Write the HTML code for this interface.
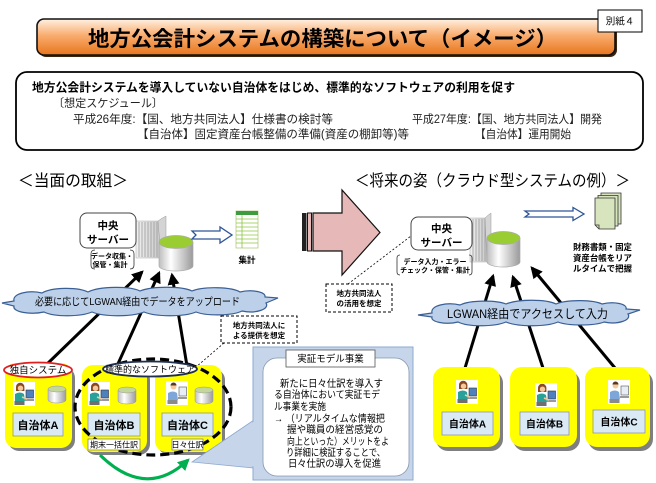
<!DOCTYPE html>
<html><head><meta charset="utf-8"><style>
html,body{margin:0;padding:0;background:#fff;}
svg{display:block;}
text{font-family:"Liberation Sans","Noto Sans CJK JP",sans-serif;}
</style></head><body>
<svg width="656" height="483" viewBox="0 0 656 483" xmlns="http://www.w3.org/2000/svg">
<defs>
<linearGradient id="ban" x1="0" y1="0" x2="0" y2="1">
<stop offset="0" stop-color="#fff1e2"/><stop offset="0.45" stop-color="#f9ad70"/><stop offset="1" stop-color="#e8751c"/>
</linearGradient>
<linearGradient id="cyl" x1="0" y1="0" x2="1" y2="0">
<stop offset="0" stop-color="#bdbdbd"/><stop offset="0.35" stop-color="#ffffff"/><stop offset="1" stop-color="#9a9a9a"/>
</linearGradient>
<linearGradient id="tow" x1="0" y1="0" x2="1" y2="0">
<stop offset="0" stop-color="#f2f2f2"/><stop offset="1" stop-color="#c8c8c8"/>
</linearGradient>
<marker id="ah" viewBox="0 0 10 10" refX="8" refY="5" markerWidth="4" markerHeight="4" orient="auto">
<path d="M0,0 L10,5 L0,10 z" fill="#000"/></marker>
<marker id="gh" viewBox="0 0 10 10" refX="8" refY="5" markerWidth="4" markerHeight="4" orient="auto">
<path d="M0,0 L10,5 L0,10 z" fill="#00b050"/></marker>
<g id="pf">
<rect width="22" height="24" fill="#fff"/>
<path d="M3,9 V5 a4.2,4.2 0 0 1 8.4,0 V9 z" fill="#8b4a1e"/>
<circle cx="7.5" cy="6.2" r="2.7" fill="#f4c9a0"/>
<path d="M2,12 q5,-3 9,0 l1,7 h-10z" fill="#2aa198"/>
<rect x="1.5" y="19" width="10" height="4" fill="#6f6f6f"/>
<rect x="13" y="8" width="7.5" height="8" fill="#4f81bd" stroke="#333" stroke-width="0.6"/>
<rect x="12" y="17" width="9" height="2" fill="#9a9a9a"/>
<path d="M9,15 l5,2" stroke="#f4c9a0" stroke-width="1.5"/>
</g>
<g id="pm">
<rect width="22" height="24" fill="#fff"/>
<circle cx="7.5" cy="5.5" r="3" fill="#f4c9a0"/>
<path d="M4.5,4.5 a3,3 0 0 1 6,0 z" fill="#5a3a1e"/>
<path d="M2,12 q5,-3 9,0 l1,7 h-10z" fill="#7ea6d8"/>
<rect x="1.5" y="19" width="10" height="4" fill="#8a8a8a"/>
<rect x="13" y="6" width="7.5" height="9" fill="#e8eef6" stroke="#555" stroke-width="0.6"/>
<rect x="12" y="16" width="9" height="2" fill="#9a9a9a"/>
</g>
<g id="cs">
<path d="M0,3 V14 A9,3 0 0 0 18,14 V3" fill="url(#cyl)" stroke="#999" stroke-width="0.5"/>
<ellipse cx="9" cy="3" rx="9" ry="3" fill="#c4d79b" stroke="#999" stroke-width="0.5"/>
</g>
</defs>

<!-- Banner -->
<rect x="39" y="21" width="578" height="36" rx="7" fill="#3b2410"/>
<rect x="37" y="19" width="578" height="36" rx="7" fill="url(#ban)" stroke="#111" stroke-width="1.6"/>
<text x="88" y="46" font-size="21" font-weight="bold" textLength="469" lengthAdjust="spacingAndGlyphs">地方公会計システムの構築について（イメージ）</text>
<rect x="598" y="10" width="44" height="22" fill="#fff" stroke="#000" stroke-width="1"/>
<text x="620" y="24.5" font-size="9.5" text-anchor="middle">別紙４</text>

<!-- Info box -->
<rect x="16" y="72" width="627" height="78" rx="11" fill="#fff" stroke="#000" stroke-width="1.8"/>
<text x="32" y="91.5" font-size="12" font-weight="bold" textLength="483" lengthAdjust="spacingAndGlyphs">地方公会計システムを導入していない自治体をはじめ、標準的なソフトウェアの利用を促す</text>
<text x="53" y="107" font-size="11.5" fill="#222" textLength="110" lengthAdjust="spacingAndGlyphs">〔想定スケジュール〕</text>
<text x="73" y="123" font-size="11.5" fill="#222" textLength="260" lengthAdjust="spacingAndGlyphs">平成26年度:【国、地方共同法人】仕様書の検討等</text>
<text x="137" y="138" font-size="11.5" fill="#222" textLength="272" lengthAdjust="spacingAndGlyphs">【自治体】固定資産台帳整備の準備(資産の棚卸等)等</text>
<text x="412" y="123" font-size="11.5" fill="#222" textLength="190" lengthAdjust="spacingAndGlyphs">平成27年度:【国、地方共同法人】開発</text>
<text x="475" y="138" font-size="11.5" fill="#222" textLength="96" lengthAdjust="spacingAndGlyphs">【自治体】運用開始</text>

<!-- Section headers -->
<text x="18" y="186" font-size="16" textLength="110" lengthAdjust="spacingAndGlyphs">＜当面の取組＞</text>
<text x="355" y="186" font-size="16" textLength="275" lengthAdjust="spacingAndGlyphs">＜将来の姿（クラウド型システムの例）＞</text>

<!-- Left server -->
<rect x="136" y="221" width="25" height="37" fill="url(#tow)" stroke="#aaa" stroke-width="0.5"/>
<g stroke="#9a9a9a" stroke-width="0.8">
<line x1="139" y1="222" x2="139" y2="257"/><line x1="142" y1="222" x2="142" y2="257"/><line x1="145" y1="222" x2="145" y2="257"/><line x1="148" y1="222" x2="148" y2="257"/><line x1="151" y1="222" x2="151" y2="257"/><line x1="154" y1="222" x2="154" y2="257"/><line x1="157" y1="222" x2="157" y2="257"/>
</g>
<path d="M158,221 Q162,218 166,216 V256 L161,258 Z" fill="#d4d4d4" stroke="#999" stroke-width="0.5"/>
<rect x="80" y="213" width="56" height="35" rx="7" fill="#fff" stroke="#444" stroke-width="1"/>
<text x="108" y="229" font-size="10.5" font-weight="bold" text-anchor="middle">中央</text>
<text x="108" y="243" font-size="10.5" font-weight="bold" text-anchor="middle">サーバー</text>
<path d="M95,250 Q91,250 91,254 V265 Q91,269 95,269" fill="none" stroke="#333" stroke-width="0.8"/>
<path d="M130,250 Q134,250 134,254 V265 Q134,269 130,269" fill="none" stroke="#333" stroke-width="0.8"/>
<text x="112" y="258.5" font-size="7" font-weight="bold" text-anchor="middle">データ収集・</text>
<text x="110" y="267" font-size="7" font-weight="bold" text-anchor="middle">保管・集計</text>
<path d="M159,242 V266 A17,5 0 0 0 193,266 V242" fill="url(#cyl)" stroke="#aaa" stroke-width="0.7"/>
<ellipse cx="176" cy="242" rx="17" ry="6.5" fill="#9acd32" stroke="#aaa" stroke-width="0.7"/>
<!-- hollow arrow left -->
<path d="M192,231 H220 V227 L232,235 L220,243 V239 H192 L196,235 Z" fill="#fff" stroke="#2e5597" stroke-width="1.3"/>
<!-- spreadsheet -->
<rect x="236" y="211" width="22" height="37" fill="#fff" stroke="#9bbb59" stroke-width="0.6"/>
<rect x="236" y="211" width="22" height="4" fill="#3e9b3e"/>
<g stroke="#8dc63f" stroke-width="0.8">
<line x1="236" y1="219" x2="258" y2="219"/><line x1="236" y1="223" x2="258" y2="223"/><line x1="236" y1="227" x2="258" y2="227"/><line x1="236" y1="231" x2="258" y2="231"/><line x1="236" y1="235" x2="258" y2="235"/><line x1="236" y1="239" x2="258" y2="239"/><line x1="236" y1="243" x2="258" y2="243"/><line x1="242" y1="215" x2="242" y2="248"/>
</g>
<text x="247" y="263" font-size="8.5" font-weight="bold" text-anchor="middle">集計</text>

<!-- Left lines -->
<g stroke="#000" stroke-width="3" marker-end="url(#ah)">
<line x1="45" y1="366" x2="142" y2="272"/>
<line x1="117" y1="366" x2="159" y2="273"/>
<line x1="187" y1="366" x2="172" y2="275"/>
</g>
<!-- Left cloud -->
<path d="M2,303 L14,301 C12,293 30,290 42,293 C52,287 78,287 88,292 C100,286 130,286 140,291 C152,286 182,286 192,291 C204,286 232,287 240,292 C252,289 266,292 265,297 L278,298 L266,303 C270,309 256,314 242,311 C232,316 206,316 196,312 C184,317 156,317 144,312 C132,317 104,317 92,312 C80,317 54,317 44,312 C30,315 12,312 14,306 Z" fill="#bcd0ea" stroke="#3a5f95" stroke-width="1.2"/>
<text x="35" y="305" font-size="10.5" textLength="205" lengthAdjust="spacingAndGlyphs">必要に応じてLGWAN経由でデータをアップロード</text>

<!-- dashed box left -->
<rect x="221" y="316" width="76" height="27" fill="#fff" stroke="#000" stroke-width="1" stroke-dasharray="3,2"/>
<text x="259" y="328" font-size="7.5" font-weight="bold" text-anchor="middle">地方共同法人に</text>
<text x="259" y="338" font-size="7.5" font-weight="bold" text-anchor="middle">よる提供を想定</text>
<line x1="224" y1="343" x2="196" y2="367" stroke="#000" stroke-width="0.8" stroke-dasharray="2,2"/>

<!-- Left yellow boxes -->
<rect x="8" y="367" width="67" height="84" rx="11" fill="#7f7f7f"/>
<rect x="5" y="363" width="67" height="85" rx="11" fill="#ffff00"/>
<rect x="85" y="369" width="65" height="86" rx="11" fill="#7f7f7f"/>
<rect x="82" y="365" width="65" height="87" rx="11" fill="#ffff00"/>
<rect x="158" y="369" width="67" height="86" rx="11" fill="#7f7f7f"/>
<rect x="155" y="365" width="67" height="87" rx="11" fill="#ffff00"/>
<use href="#pf" x="13" y="382"/>
<use href="#cs" x="48" y="386"/>
<use href="#pf" x="88" y="382"/>
<use href="#cs" x="118" y="387"/>
<use href="#pm" x="166" y="381"/>
<use href="#cs" x="195" y="387"/>
<rect x="13" y="413" width="50" height="23" fill="#d9eaf5" stroke="#8a8a8a" stroke-width="0.7"/>
<rect x="88" y="413" width="52" height="23" fill="#d9eaf5" stroke="#8a8a8a" stroke-width="0.7"/>
<rect x="162" y="413" width="51" height="23" fill="#d9eaf5" stroke="#8a8a8a" stroke-width="0.7"/>
<text x="38" y="429" font-size="11" font-weight="bold" text-anchor="middle">自治体A</text>
<text x="114" y="429" font-size="11" font-weight="bold" text-anchor="middle">自治体B</text>
<text x="187.5" y="429" font-size="11" font-weight="bold" text-anchor="middle">自治体C</text>
<ellipse cx="153" cy="407" rx="78" ry="48" fill="none" stroke="#000" stroke-width="3.2" stroke-dasharray="9,5"/>
<path d="M100,455 Q146,500 188,460" fill="none" stroke="#00b050" stroke-width="3" marker-end="url(#gh)"/>
<rect x="88" y="439" width="52" height="11" fill="#fff" stroke="#777" stroke-width="0.7"/>
<text x="114" y="447.5" font-size="8" text-anchor="middle">期末一括仕訳</text>
<rect x="172" y="439" width="31" height="11" fill="#fff" stroke="#777" stroke-width="0.7"/>
<text x="187.5" y="447.5" font-size="8" text-anchor="middle">日々仕訳</text>
<ellipse cx="38" cy="370" rx="34" ry="7.5" fill="#fff" stroke="#e02020" stroke-width="1.8"/>
<text x="38" y="373.5" font-size="9.5" text-anchor="middle">独自システム</text>
<ellipse cx="150" cy="369" rx="47" ry="7.5" fill="#fff" stroke="#1f2f50" stroke-width="1.8"/>
<text x="150" y="372.5" font-size="9" text-anchor="middle">標準的なソフトウェア</text>

<!-- Callout -->
<polygon points="254,420 192,462 254,468" fill="#c6d5ea" stroke="#8eaad0" stroke-width="0.8"/>
<rect x="253" y="347" width="160" height="133" fill="#c6d5ea" stroke="#8eaad0" stroke-width="1"/>
<polygon points="254,421 254,467 230,451" fill="#c6d5ea"/>
<rect x="263" y="358" width="146" height="118" rx="14" fill="#fff" stroke="#8497b0" stroke-width="0.8"/>
<rect x="286" y="350" width="89" height="17" fill="#fff" stroke="#555" stroke-width="0.8"/>
<text x="330.5" y="362" font-size="9.5" text-anchor="middle">実証モデル事業</text>
<g font-size="10">
<text x="280" y="387" textLength="103" lengthAdjust="spacingAndGlyphs">新たに日々仕訳を導入す</text>
<text x="274" y="398" textLength="106" lengthAdjust="spacingAndGlyphs">る自治体において実証モデ</text>
<text x="274" y="410" textLength="52" lengthAdjust="spacingAndGlyphs">ル事業を実施</text>
<text x="274" y="422" textLength="111" lengthAdjust="spacingAndGlyphs">→ （リアルタイムな情報把</text>
<text x="287" y="433" textLength="96" lengthAdjust="spacingAndGlyphs">握や職員の経営感覚の</text>
<text x="287" y="445" textLength="102" lengthAdjust="spacingAndGlyphs">向上といった）メリットをよ</text>
<text x="286" y="456" textLength="99" lengthAdjust="spacingAndGlyphs">り詳細に検証することで、</text>
<text x="288" y="467" textLength="93" lengthAdjust="spacingAndGlyphs">日々仕訳の導入を促進</text>
</g>

<!-- Pink arrow -->
<rect x="302" y="213" width="4.5" height="38" fill="#222"/>
<rect x="307.5" y="213" width="4" height="38" fill="#e6b9b8" stroke="#111" stroke-width="1"/>
<polygon points="313,213 342,213 342,190 380,232.5 342,275 342,251 313,251" fill="#e6b9b8" stroke="#111" stroke-width="1.2"/>

<!-- dashed box right -->
<rect x="326" y="284" width="66" height="28" fill="#fff" stroke="#000" stroke-width="1" stroke-dasharray="3,2"/>
<text x="359" y="296" font-size="7.5" font-weight="bold" text-anchor="middle">地方共同法人</text>
<text x="359" y="306" font-size="7.5" font-weight="bold" text-anchor="middle">の活用を想定</text>
<line x1="348" y1="284" x2="411" y2="236" stroke="#000" stroke-width="0.8" stroke-dasharray="2,2"/>

<!-- Right server -->
<rect x="470" y="218" width="17" height="44" fill="url(#tow)" stroke="#aaa" stroke-width="0.5"/>
<g stroke="#9a9a9a" stroke-width="0.8">
<line x1="473" y1="219" x2="473" y2="261"/><line x1="476" y1="219" x2="476" y2="261"/><line x1="479" y1="219" x2="479" y2="261"/><line x1="482" y1="219" x2="482" y2="261"/><line x1="485" y1="219" x2="485" y2="261"/>
</g>
<path d="M485,218 Q488,215 491,213 V258 L487,262 Z" fill="#d4d4d4" stroke="#999" stroke-width="0.5"/>
<rect x="411" y="217" width="61" height="33" rx="7" fill="#fff" stroke="#444" stroke-width="1"/>
<text x="441.5" y="232" font-size="10.5" font-weight="bold" text-anchor="middle">中央</text>
<text x="441.5" y="246" font-size="10.5" font-weight="bold" text-anchor="middle">サーバー</text>
<path d="M400,255 Q397,255 397,258 V272 Q397,275 400,275" fill="none" stroke="#333" stroke-width="0.8"/>
<path d="M469,255 Q472,255 472,258 V272 Q472,275 469,275" fill="none" stroke="#333" stroke-width="0.8"/>
<text x="435" y="264" font-size="7" font-weight="bold" text-anchor="middle">データ入力・エラー</text>
<text x="435" y="272.5" font-size="7" font-weight="bold" text-anchor="middle">チェック・保管・集計</text>
<path d="M487,238 V262 A16.5,5 0 0 0 520,262 V238" fill="url(#cyl)" stroke="#aaa" stroke-width="0.7"/>
<ellipse cx="503.5" cy="238" rx="16.5" ry="6.5" fill="#9acd32" stroke="#aaa" stroke-width="0.7"/>
<path d="M525,211 H573 V207.5 L584,214 L573,220.5 V217 H525 L529,214 Z" fill="#fff" stroke="#2e5597" stroke-width="1.3"/>
<!-- docs -->
<path d="M601,193 H621 V224 H601 Z" fill="#d7e4bd" stroke="#333" stroke-width="0.8"/>
<path d="M598,195.5 H618 V226 H598 Z" fill="#d7e4bd" stroke="#333" stroke-width="0.8"/>
<path d="M595,198 H615 V229 H599 L595,225 Z" fill="#d7e4bd" stroke="#333" stroke-width="0.8"/>
<path d="M595,225 L599,225 L599,229" fill="none" stroke="#333" stroke-width="0.8"/>
<g font-size="8.5" font-weight="bold">
<text x="573" y="250" textLength="59" lengthAdjust="spacingAndGlyphs">財務書類・固定</text>
<text x="573" y="261" textLength="59" lengthAdjust="spacingAndGlyphs">資産台帳をリア</text>
<text x="573" y="271.5" textLength="59" lengthAdjust="spacingAndGlyphs">ルタイムで把握</text>
</g>

<!-- Right lines -->
<g stroke="#000" stroke-width="3" marker-end="url(#ah)">
<line x1="465" y1="368" x2="493" y2="276"/>
<line x1="543" y1="368" x2="513" y2="277"/>
<line x1="615" y1="368" x2="532" y2="268"/>
</g>
<!-- Right cloud -->
<path d="M418,315 L432,313 C430,305 448,302 460,305 C470,300 496,300 506,304 C518,299 546,299 556,304 C568,299 594,300 602,304 C614,301 628,304 626,309 L640,310 L628,314 C632,320 618,325 604,322 C594,326 568,326 558,322 C546,327 518,327 506,322 C494,327 468,327 458,322 C446,325 430,322 432,317 Z" fill="#bcd0ea" stroke="#3a5f95" stroke-width="1.2"/>
<text x="447" y="318" font-size="12" textLength="161" lengthAdjust="spacingAndGlyphs">LGWAN経由でアクセスして入力</text>

<!-- Right yellow boxes -->
<rect x="436" y="371" width="67" height="80" rx="12" fill="#7f7f7f"/>
<rect x="433" y="367" width="67" height="80" rx="12" fill="#ffff00"/>
<rect x="513" y="371" width="67" height="80" rx="12" fill="#7f7f7f"/>
<rect x="510" y="367" width="67" height="80" rx="12" fill="#ffff00"/>
<rect x="588" y="371" width="65" height="80" rx="12" fill="#7f7f7f"/>
<rect x="585" y="367" width="65" height="80" rx="12" fill="#ffff00"/>
<use href="#pf" x="456" y="380"/>
<use href="#pf" x="535" y="383"/>
<use href="#pm" x="608" y="380"/>
<rect x="442" y="412" width="51" height="23" fill="#d9eaf5" stroke="#8a8a8a" stroke-width="0.7"/>
<rect x="520" y="412" width="49" height="23" fill="#d9eaf5" stroke="#8a8a8a" stroke-width="0.7"/>
<rect x="593" y="410" width="52" height="23" fill="#d9eaf5" stroke="#8a8a8a" stroke-width="0.7"/>
<text x="467.5" y="427.5" font-size="10" font-weight="bold" text-anchor="middle">自治体A</text>
<text x="544.5" y="427.5" font-size="10" font-weight="bold" text-anchor="middle">自治体B</text>
<text x="619" y="425.5" font-size="10" font-weight="bold" text-anchor="middle">自治体C</text>
</svg>
</body></html>
